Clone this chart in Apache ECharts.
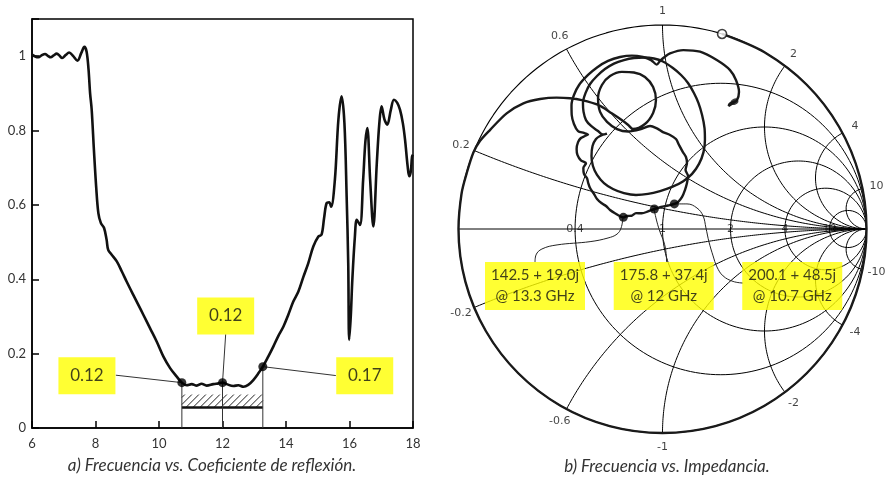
<!DOCTYPE html>
<html><head><meta charset="utf-8">
<script src="https://cdn.jsdelivr.net/npm/echarts@6/dist/echarts.min.js"></script>
<style>html,body{margin:0;padding:0;background:#fff}#c{width:892px;height:477px}</style>
</head><body><div id="c"></div>
<script>
// ---------- (a) reflection coefficient vs frequency ----------
const freqGHz = [6.00,6.10,6.20,6.30,6.41,6.50,6.59,6.68,6.78,6.87,6.95,7.06,7.17,7.30,7.43,7.55,7.65,7.72,7.78,7.83,7.88,7.95,8.02,8.09,8.17,8.27,8.35,8.40,8.51,8.67,8.83,8.98,9.19,9.35,9.51,9.72,9.93,10.14,10.35,10.56,10.72,10.87,11.03,11.19,11.34,11.50,11.71,11.87,12.00,12.13,12.34,12.50,12.66,12.81,12.97,13.13,13.27,13.44,13.60,13.76,13.92,14.07,14.23,14.39,14.55,14.70,14.86,15.02,15.12,15.20,15.28,15.36,15.42,15.54,15.65,15.75,15.84,15.91,15.96,15.99,16.04,16.09,16.17,16.23,16.33,16.43,16.50,16.56,16.65,16.75,16.86,16.94,17.01,17.10,17.19,17.30,17.40,17.50,17.59,17.68,17.75,17.83,17.88,17.93,17.97,18.00];
const reflCoef = [1.004,0.999,0.997,1.002,1.006,1.001,0.997,1.002,1.007,1.001,0.995,1.003,1.010,1.000,0.988,1.008,1.025,1.012,0.965,0.900,0.856,0.748,0.650,0.578,0.551,0.538,0.506,0.479,0.466,0.448,0.421,0.394,0.358,0.331,0.304,0.268,0.232,0.192,0.161,0.138,0.122,0.115,0.118,0.114,0.119,0.114,0.118,0.120,0.122,0.118,0.113,0.115,0.111,0.116,0.129,0.147,0.165,0.192,0.219,0.248,0.273,0.304,0.340,0.367,0.407,0.443,0.488,0.515,0.520,0.565,0.605,0.607,0.595,0.668,0.829,0.892,0.820,0.623,0.443,0.237,0.300,0.400,0.515,0.560,0.546,0.668,0.770,0.807,0.668,0.542,0.712,0.820,0.865,0.830,0.816,0.855,0.883,0.875,0.856,0.820,0.775,0.705,0.677,0.690,0.730,0.735];
const xTicks = [6, 18, 2];           // min, max, interval
const yTicks = [0, 1.1, 0.2];
const markFreq = [10.72, 12.0, 13.27];
const markRefl = [0.122, 0.122, 0.165];
const markText = ['0.12', '0.12', '0.17'];
const boxFreq = [7.73, 12.1, 16.48];
const boxRefl = [0.1405, 0.3015, 0.1405];
const leadEndFreq = [8.64, 12.1, 15.57];
const leadEndRefl = [0.142, 0.252, 0.141];
const bandFreq = [10.72, 13.27];
const bandRefl = [0.055, 0.09];

// ---------- (b) Smith chart (reflection coefficient plane, Re / Im) ----------
const trajRe = [0.292,0.500,0.707,0.866,0.966,1.000,0.966,0.866,0.707,0.500,0.259,0.000,-0.259,-0.500,-0.707,-0.866,-0.966,-1.000,-0.985,-0.960,-0.927,-0.895,
 -0.846,-0.764,-0.682,-0.600,-0.519,-0.453,-0.396,-0.315,-0.249,-0.200,-0.168,-0.145,
 -0.086,-0.046,-0.032,-0.046,-0.086,-0.140,-0.199,-0.257,-0.297,-0.316,-0.306,-0.272,-0.223,-0.169,-0.110,-0.061,
 -0.027,0.002,0.037,0.066,0.081,0.100,0.115,0.120,0.113,0.125,0.120,0.110,0.096,0.076,0.058,
 0.027,-0.007,-0.040,-0.071,-0.102,-0.130,-0.151,-0.174,-0.192,
 -0.233,-0.257,-0.277,-0.298,-0.321,-0.336,-0.355,-0.364,-0.370,-0.385,-0.388,-0.375,-0.400,-0.417,-0.421,-0.414,-0.400,
 -0.380,-0.365,-0.385,-0.414,-0.434,-0.445,-0.446,-0.434,-0.409,-0.365,-0.321,-0.267,-0.208,-0.150,-0.096,-0.056,-0.028,
 -0.012,0.007,0.037,0.102,0.184,0.266,0.331,0.360,0.375,0.365,0.346,0.324,0.331,0.355];
const trajIm = [0.956,0.866,0.707,0.500,0.259,0.000,-0.259,-0.500,-0.707,-0.866,-0.966,-1.000,-0.966,-0.866,-0.707,-0.500,-0.259,0.000,0.174,0.273,0.375,0.431,
 0.485,0.567,0.616,0.637,0.644,0.641,0.632,0.608,0.567,0.534,0.510,0.490,
 0.515,0.569,0.632,0.696,0.745,0.767,0.770,0.750,0.706,0.642,0.574,0.525,0.490,0.478,0.488,0.505,
 0.493,0.475,0.461,0.441,0.412,0.377,0.353,0.324,0.289,0.260,0.225,0.191,0.157,0.132,0.123,
 0.115,0.108,0.098,0.086,0.077,0.078,0.065,0.064,0.057,
 0.077,0.093,0.113,0.126,0.147,0.172,0.201,0.225,0.249,0.270,0.299,0.322,0.336,0.363,0.392,0.426,0.446,
 0.456,0.463,0.471,0.480,0.515,0.559,0.608,0.657,0.706,0.755,0.792,0.824,0.843,0.850,0.843,0.828,0.806,
 0.824,0.841,0.861,0.877,0.869,0.828,0.779,0.730,0.672,0.632,0.618,0.603,0.615,0.625];
const loopRe = [-0.272,-0.292,-0.316,-0.350,-0.375,-0.387,-0.390,-0.377,-0.355,-0.321,-0.282,-0.238,-0.189,-0.140,-0.091,-0.042,0.002,0.051,0.091,0.125,0.154,0.176,0.194,0.206,0.208,0.201,0.179,0.145,0.100,0.047,-0.012,-0.071,-0.130,-0.189,-0.243,-0.287,-0.321,-0.341,-0.348,-0.343,-0.326,-0.306,-0.277];
const loopIm = [0.468,0.463,0.480,0.505,0.534,0.574,0.618,0.667,0.711,0.750,0.784,0.811,0.828,0.838,0.841,0.836,0.821,0.789,0.755,0.716,0.667,0.618,0.559,0.495,0.436,0.377,0.319,0.270,0.233,0.206,0.186,0.172,0.167,0.176,0.196,0.225,0.265,0.309,0.358,0.407,0.441,0.456,0.466];
const startRe = 0.292, startIm = 0.956;
const endRe = 0.353, endIm = 0.624;
const smithMarkRe = [0.058, -0.040, -0.192];
const smithMarkIm = [0.123, 0.098, 0.057];
const smithText = ['200.1 + 48.5j\n@ 10.7 GHz', '175.8 + 37.4j\n@ 12 GHz', '142.5 + 19.0j\n@ 13.3 GHz'];
const smithBoxRe = [0.636, 0.006, -0.625];
const smithBoxIm = [-0.280, -0.280, -0.280];
const lead107Re = [0.061,0.120,0.169,0.199,0.213,0.228,0.248,0.267,0.297,0.346,0.395];
const lead107Im = [0.123,0.123,0.103,0.064,0.005,-0.064,-0.132,-0.186,-0.230,-0.257,-0.265];
const lead12Re = [-0.042,-0.027,-0.012,0.007,0.017,0.020];
const lead12Im = [0.098,0.034,-0.015,-0.064,-0.113,-0.162];
const lead133Re = [-0.194,-0.203,-0.223,-0.267,-0.355,-0.517,-0.591,-0.620,-0.625];
const lead133Im = [0.054,0.005,-0.025,-0.044,-0.062,-0.078,-0.098,-0.127,-0.162];
const rCircles = [0.4, 1, 2, 4, 10];
const xArcs = [0.2, 0.6, 1, 2, 4, 10];

// ---------- build ----------
const zip = (a, b) => a.map((v, i) => [v, b[i]]);
const FONT = 'Lato';
const series = [];

// left: line
series.push({type:'line', xAxisIndex:0, yAxisIndex:0, data: zip(freqGHz, reflCoef), smooth:0.35,
  showSymbol:false, symbol:'none', lineStyle:{color:'#111', width:2.6}, z:3, silent:true});
// hatch band
series.push({type:'custom', xAxisIndex:0, yAxisIndex:0, z:2, silent:true,
  data:[[bandFreq[0], bandFreq[1], bandRefl[0], bandRefl[1]]],
  encode:{x:[0,1], y:[2,3]},
  renderItem:function(params, api){
    const p0 = api.coord([api.value(0), api.value(3)]);
    const p1 = api.coord([api.value(1), api.value(2)]);
    const L=p0[0], R=p1[0], T=p0[1], B=p1[1], h=B-T;
    const ch=[];
    for(let xs=L-h+3; xs<R; xs+=7){
      let x1=xs, y1=B, x2=xs+h, y2=T;
      if(x1<L){ y1=B-(L-x1); x1=L; }
      if(x2>R){ y2=T+(x2-R); x2=R; }
      if(x2<=x1) continue;
      ch.push({type:'line', shape:{x1,y1,x2,y2}, style:{stroke:'#222', lineWidth:1}});
    }
    ch.push({type:'line', shape:{x1:L,y1:B,x2:R,y2:B}, style:{stroke:'#111', lineWidth:2.4}});
    return {type:'group', children:ch};
  }});
// drop lines and leader lines
markFreq.forEach((f,i)=>{
  series.push({type:'line', xAxisIndex:0, yAxisIndex:0, data:[[f, markRefl[i]],[f, 0]], symbol:'none',
    lineStyle:{color:'#333', width:1}, z:2, silent:true});
  series.push({type:'line', xAxisIndex:0, yAxisIndex:0, data:[[f, markRefl[i]],[leadEndFreq[i], leadEndRefl[i]]], symbol:'none',
    lineStyle:{color:'#333', width:1}, z:2, silent:true});
});
// markers
series.push({type:'scatter', xAxisIndex:0, yAxisIndex:0, data: zip(markFreq, markRefl), symbolSize:9,
  itemStyle:{color:'#000'}, z:6, silent:true});
// label boxes
series.push({type:'scatter', xAxisIndex:0, yAxisIndex:0, symbolSize:1, itemStyle:{color:'rgba(0,0,0,0)'}, z:7, silent:true,
  data: boxFreq.map((f,i)=>({value:[f, boxRefl[i]], name:markText[i]})),
  label:{show:true, position:'inside', formatter:p=>p.name, backgroundColor:'#ffff00', width:57, height:37,
    align:'center', verticalAlign:'middle', lineHeight:37, fontSize:17, fontFamily:FONT, color:'#111'}});

// right: Smith grid
const gridLine = (pts, w) => ({type:'line', xAxisIndex:1, yAxisIndex:1, data:pts, symbol:'none', showSymbol:false,
  lineStyle:{color:'#000', width:w||1}, z:1, silent:true, clip:false});
{
  const pts=[]; for(let a=0;a<=360;a+=2){const t=a*Math.PI/180; pts.push([Math.cos(t), Math.sin(t)]);}
  series.push(gridLine(pts, 1.1));
  series.push(gridLine([[-1,0],[1,0]], 1));
}
rCircles.forEach(r=>{
  const c=r/(1+r), R=1/(1+r), pts=[];
  for(let a=0;a<=360;a+=2){const t=a*Math.PI/180; pts.push([c+R*Math.cos(t), R*Math.sin(t)]);}
  series.push(gridLine(pts));
});
xArcs.forEach(x0=>{
  [x0,-x0].forEach(x=>{
    const pts=[];
    for(let i=0;i<400;i++){const s=i/400, t=s/(1-s); const d=(t+1)*(t+1)+x*x; pts.push([(t*t-1+x*x)/d, 2*x/d]);}
    pts.push([1,0]);
    series.push(gridLine(pts));
  });
});
// Smith grid labels
const lab = [];
xArcs.forEach(x0=>{
  [x0,-x0].forEach(x=>{
    const d=x*x+1; lab.push({value:[1.07*(x*x-1)/d, 1.07*2*x/d], name:String(x)});
  });
});
rCircles.forEach(r=>lab.push({value:[(r-1)/(r+1), 0], name:String(r)}));
series.push({type:'scatter', xAxisIndex:1, yAxisIndex:1, symbolSize:1, itemStyle:{color:'rgba(0,0,0,0)'}, z:5, silent:true, clip:false,
  data:lab, label:{show:true, position:'inside', formatter:p=>p.name, fontSize:11, fontFamily:'DejaVu Sans', color:'#111'},
  labelLayout:{hideOverlap:false}});

// trajectory
const traj = (re, im) => ({type:'line', xAxisIndex:1, yAxisIndex:1, data:zip(re, im), smooth:0.3, symbol:'none', showSymbol:false,
  lineStyle:{color:'#1a1a1a', width:2.4}, z:3, silent:true, clip:false});
series.push(traj(trajRe, trajIm));
series.push(traj(loopRe, loopIm));
// leaders
[[lead107Re, lead107Im],[lead12Re, lead12Im],[lead133Re, lead133Im]].forEach(p=>{
  series.push({type:'line', xAxisIndex:1, yAxisIndex:1, data:zip(p[0], p[1]), smooth:0.4, symbol:'none',
    lineStyle:{color:'#222', width:1}, z:4, silent:true, clip:false});
});
// markers, start, end
series.push({type:'scatter', xAxisIndex:1, yAxisIndex:1, data:zip(smithMarkRe, smithMarkIm), symbolSize:9,
  itemStyle:{color:'#000'}, z:6, silent:true});
series.push({type:'scatter', xAxisIndex:1, yAxisIndex:1, data:[[startRe, startIm]], symbolSize:9,
  itemStyle:{color:'#fff', borderColor:'#111', borderWidth:1.6}, z:6, silent:true});
series.push({type:'scatter', xAxisIndex:1, yAxisIndex:1, data:[[endRe, endIm]], symbolSize:[8,6], symbolRotate:25,
  itemStyle:{color:'#111'}, z:6, silent:true});
// boxes
series.push({type:'scatter', xAxisIndex:1, yAxisIndex:1, symbolSize:1, itemStyle:{color:'rgba(0,0,0,0)'}, z:7, silent:true,
  data: smithBoxRe.map((v,i)=>({value:[v, smithBoxIm[i]], name:smithText[i]})),
  label:{show:true, position:'inside', formatter:p=>p.name, backgroundColor:'#ffff00', width:100, height:48,
    align:'center', verticalAlign:'middle', lineHeight:21, fontSize:15, fontFamily:FONT, color:'#111'}});

const axisCommon = {axisLine:{show:true, lineStyle:{color:'#000', width:1.5}},
  axisTick:{show:true, inside:true, length:7, lineStyle:{color:'#000', width:1.5}},
  splitLine:{show:false}};

const option = {
  animation:false,
  grid:[{left:32, top:19, width:381, height:409, show:true, borderColor:'#000', borderWidth:1.5},
        {left:458.5, top:25, width:408, height:408, show:false}],
  xAxis:[Object.assign({gridIndex:0, type:'value', min:xTicks[0], max:xTicks[1], interval:xTicks[2],
           axisLabel:{color:'#333', fontSize:13, fontFamily:FONT, margin:9}}, axisCommon),
         {gridIndex:1, type:'value', min:-1, max:1, show:false}],
  yAxis:[Object.assign({gridIndex:0, type:'value', min:yTicks[0], max:yTicks[1], interval:yTicks[2],
           axisLabel:{color:'#333', fontSize:13, fontFamily:FONT, margin:6,
             formatter:v=> v>1.05 ? '' : String(+v.toFixed(1))}}, axisCommon),
         {gridIndex:1, type:'value', min:-1, max:1, show:false}],
  series:series,
  graphic:[
    {type:'text', x:212, y:466, style:{text:'a) Frecuencia vs. Coeficiente de reflexión.', align:'center', verticalAlign:'middle',
      fontSize:17, fontStyle:'italic', fontFamily:FONT, fill:'#333'}},
    {type:'text', x:667, y:467, style:{text:'b) Frecuencia vs. Impedancia.', align:'center', verticalAlign:'middle',
      fontSize:17, fontStyle:'italic', fontFamily:FONT, fill:'#333'}}
  ]
};
const chart = echarts.init(document.getElementById('c'));
chart.setOption(option);
</script></body></html>
